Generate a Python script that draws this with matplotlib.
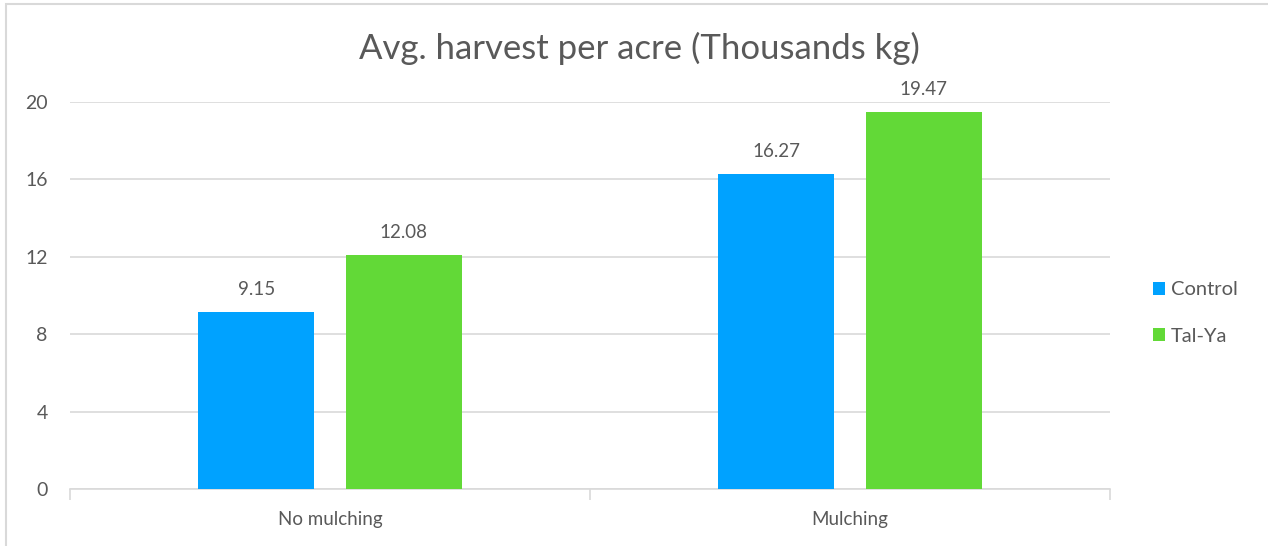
import matplotlib

matplotlib.use("Agg")
import matplotlib.pyplot as plt
import numpy as np
from matplotlib.patches import Rectangle

categories = ["No mulching", "Mulching"]
series_names = ["Control", "Tal-Ya"]
control = [9.15, 16.27]
talya = [12.08, 19.47]
yticks = [0, 4, 8, 12, 16, 20]

colors = ["#00A2FF", "#62D937"]
text_color = "#595959"

plt.rcParams["font.family"] = ["Lato", "DejaVu Sans"]

fig = plt.figure(figsize=(12.68, 5.46), dpi=100)
ax = fig.add_axes([70 / 1268, 57 / 546, 1040 / 1268, 387 / 546])

x = np.arange(len(categories))
width = 0.223
offset = 0.142
for vals, off, color, name in zip([control, talya], [-offset, offset], colors, series_names):
    bars = ax.bar(x + off, vals, width, color=color, label=name, zorder=3)
    for b, v in zip(bars, vals):
        ax.annotate(f"{v:.2f}", (b.get_x() + b.get_width() / 2, v),
                    xytext=(0, 14), textcoords="offset pixels",
                    ha="center", va="bottom", fontsize=13.5, color=text_color)

ax.set_xlim(-0.5, 1.5)
ax.set_ylim(0, 20)
ax.set_yticks(yticks)
ax.yaxis.grid(True, color="#D9D9D9", linewidth=1.2, zorder=0)
ax.tick_params(axis="y", length=0, labelsize=14, labelcolor=text_color, pad=16)
ax.set_xticks(x)
ax.set_xticklabels(categories)
ax.tick_params(axis="x", length=0, labelsize=13.5, labelcolor=text_color, pad=16)
ax.set_xticks([-0.5, 0.5, 1.5], minor=True)
ax.tick_params(axis="x", which="minor", length=8, color="#D9D9D9", width=1.2)
for s in ["top", "right", "left"]:
    ax.spines[s].set_visible(False)
ax.spines["bottom"].set_color("#D9D9D9")
ax.spines["bottom"].set_linewidth(1.2)

fig.text(639 / 1268, 1 - 48 / 546, "Avg. harvest per acre (Thousands kg)",
         fontsize=25, color=text_color, ha="center", va="center")

ax.legend(loc="center left", bbox_to_anchor=(1.024, 0.455), frameon=False,
          fontsize=14.5, labelcolor=text_color, handlelength=0.6, handleheight=0.6,
          handletextpad=0.3, labelspacing=1.45)

fig.patches.append(Rectangle((6 / 1268, -0.1), 1.2, 1.1 - 4 / 546, transform=fig.transFigure,
                             fill=False, edgecolor="#D9D9D9", linewidth=1.5))

fig.savefig("out.png", dpi=100)
